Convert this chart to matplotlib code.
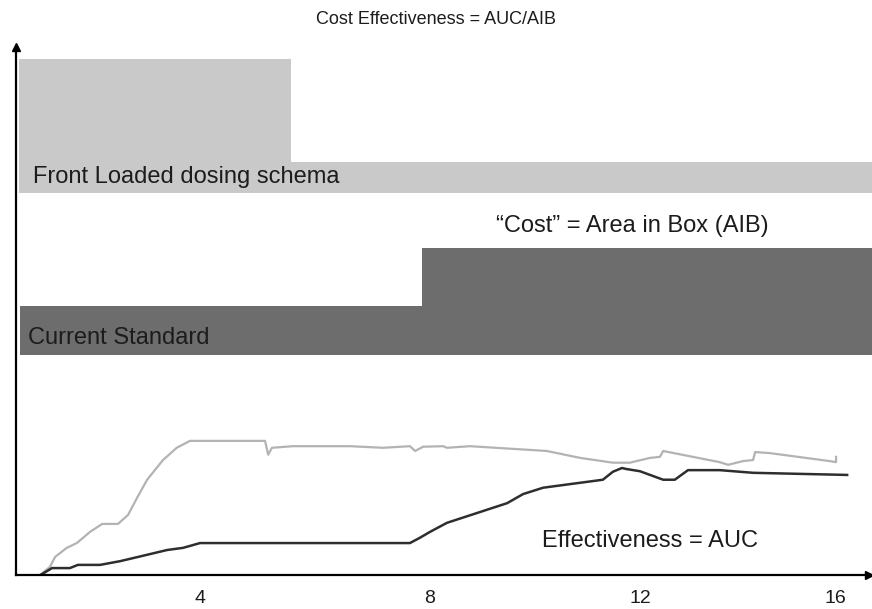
import numpy as np
import matplotlib
matplotlib.use('Agg')
import matplotlib.pyplot as plt

plt.rcParams['font.family'] = ['Liberation Sans', 'DejaVu Sans']

# dosing boxes (x in weeks, step edges) -------------------------------
front_edges = [0.41, 5.55, 16.54]
front_top = [9.70, 7.76, 7.76]
front_bottom = 7.18

std_edges = [0.43, 8.03, 16.54]
std_top = [5.06, 6.15, 6.15]
std_bottom = 4.14

# effectiveness curves ------------------------------------------------
front_t = [0.75, 0.99, 1.09, 1.31, 1.50, 1.75, 1.98, 2.28, 2.47, 2.64, 2.83, 3.13, 3.39, 3.64,
           5.06, 5.12, 5.19, 5.59, 6.67, 7.29, 7.80, 7.90, 8.05, 8.43, 8.50, 8.94, 10.39,
           11.02, 11.64, 11.96, 12.34, 12.53, 12.59, 13.66, 13.82, 14.10, 14.29, 14.33,
           14.61, 15.74, 15.86, 15.86]
front_eff = [-0.04, 0.15, 0.34, 0.51, 0.60, 0.81, 0.96, 0.96, 1.13, 1.45, 1.79, 2.16, 2.39, 2.52,
             2.52, 2.26, 2.39, 2.42, 2.42, 2.39, 2.42, 2.33, 2.41, 2.42, 2.39, 2.42, 2.33,
             2.20, 2.11, 2.11, 2.20, 2.22, 2.33, 2.12, 2.07, 2.14, 2.16, 2.31,
             2.29, 2.14, 2.12, 2.22]

std_t = [0.75, 1.03, 1.37, 1.52, 1.94, 2.32, 2.83, 3.21, 3.51, 3.83, 7.80, 7.99, 8.18, 8.50,
         9.64, 9.94, 10.32, 11.15, 11.45, 11.64, 11.81, 11.90, 12.15, 12.59, 12.81, 13.06,
         13.66, 14.29, 16.07]
std_eff = [-0.04, 0.13, 0.13, 0.19, 0.19, 0.26, 0.38, 0.47, 0.51, 0.60, 0.60, 0.70, 0.81, 0.98,
           1.35, 1.52, 1.64, 1.75, 1.79, 1.94, 2.01, 1.99, 1.95, 1.79, 1.79, 1.97,
           1.97, 1.92, 1.88]

tick_pos = [3.83, 8.18, 12.15, 15.84]
tick_labels = ['4', '8', '12', '16']

fig = plt.figure(figsize=(8.72, 6.09), dpi=100)
ax = fig.add_axes([16 / 872, 34 / 609, 856 / 872, 528 / 609])

light = '#c9c9c9'
dark = '#6d6d6d'
txt = '#1c1c1c'

ax.fill_between(front_edges, front_bottom, front_top, step='post', color=light, lw=0)
ax.fill_between(std_edges, std_bottom, std_top, step='post', color=dark, lw=0)

ax.plot(front_t, front_eff, color='#b3b3b3', lw=1.6, solid_joinstyle='round')
ax.plot(std_t, std_eff, color='#2e2e2e', lw=1.8, solid_joinstyle='round')

ax.set_xlim(0.35, 16.54)
ax.set_ylim(0, 9.92)

for s in ['top', 'right']:
    ax.spines[s].set_visible(False)
for s in ['left', 'bottom']:
    ax.spines[s].set_linewidth(1.6)
    ax.spines[s].set_color('black')

# arrow heads
ax.plot(0.997, 0, '>', color='black', ms=6, transform=ax.transAxes, clip_on=False)
ax.plot(0, 1, '^', color='black', ms=6, transform=ax.transAxes, clip_on=False)

ax.set_yticks([])
ax.set_xticks(tick_pos)
ax.set_xticklabels(tick_labels, fontsize=14, color=txt)
ax.tick_params(axis='x', length=0, pad=11)

ax.text(0.67, 7.47, 'Front Loaded dosing schema', fontsize=17, color=txt, va='center')
ax.text(9.43, 6.55, '\u201cCost\u201d = Area in Box (AIB)', fontsize=17, color=txt, va='center')
ax.text(0.58, 4.45, 'Current Standard', fontsize=17, color=txt, va='center')
ax.text(10.30, 0.63, 'Effectiveness = AUC', fontsize=17, color=txt, va='center')

fig.text(0.5, 1 - 20 / 609, 'Cost Effectiveness = AUC/AIB', fontsize=13, color=txt,
         ha='center', va='center')

fig.savefig('out.png', dpi=100)
